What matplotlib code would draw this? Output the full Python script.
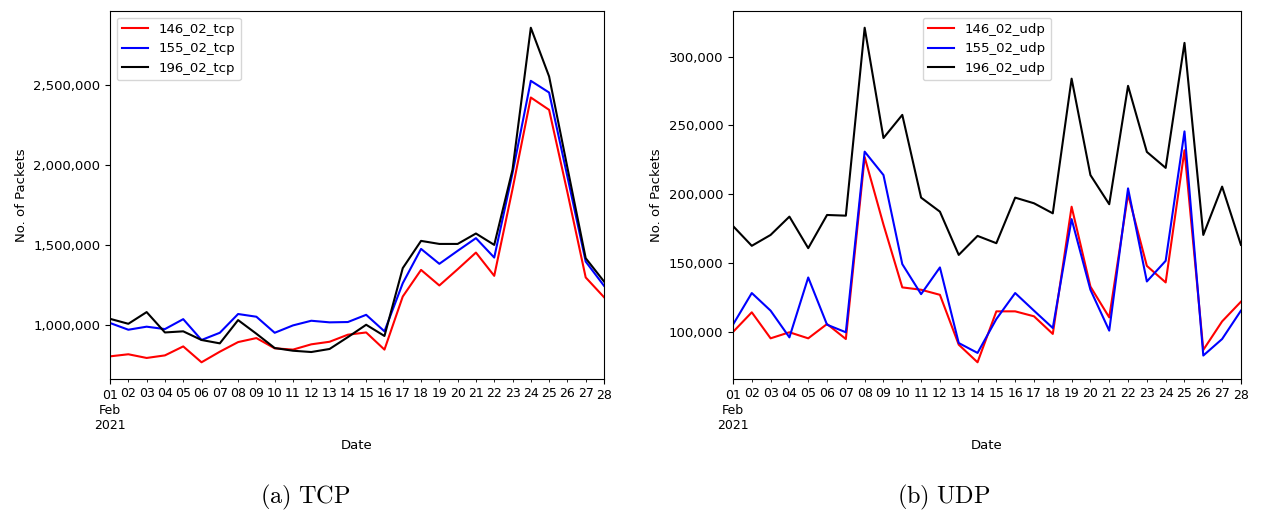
import numpy as np
import pandas as pd
import matplotlib
matplotlib.use("Agg")
from matplotlib import pyplot as plt
import matplotlib.dates as mdates
from matplotlib.ticker import FuncFormatter, FixedLocator

plt.rcParams['mathtext.fontset'] = 'cm'

days = pd.date_range("2021-02-01", "2021-02-28", freq="D")

# daily packet counts (TCP)
tcp_146 = [807e3, 820e3, 797e3, 813e3, 869e3, 770e3, 836e3, 896e3, 921e3, 857e3,
           849e3, 882e3, 898e3, 942e3, 956e3, 849e3, 1180e3, 1346e3, 1249e3, 1350e3,
           1454e3, 1309e3, 1850e3, 2421e3, 2344e3, 1830e3, 1299e3, 1176e3]
tcp_155 = [1015e3, 973e3, 992e3, 977e3, 1039e3, 909e3, 954e3, 1071e3, 1054e3, 954e3,
           1000e3, 1029e3, 1019e3, 1021e3, 1066e3, 963e3, 1263e3, 1477e3, 1384e3, 1465e3,
           1544e3, 1423e3, 1950e3, 2525e3, 2452e3, 1928e3, 1398e3, 1247e3]
tcp_196 = [1041e3, 1010e3, 1083e3, 956e3, 963e3, 909e3, 888e3, 1033e3, 948e3, 859e3,
           842e3, 834e3, 853e3, 927e3, 1004e3, 934e3, 1357e3, 1527e3, 1508e3, 1508e3,
           1573e3, 1502e3, 1971e3, 2856e3, 2552e3, 1984e3, 1419e3, 1274e3]

# daily packet counts (UDP)
udp_146 = [100e3, 114.3e3, 95.4e3, 99.8e3, 95.4e3, 105.8e3, 94.9e3, 227e3, 178e3, 132.4e3,
           130.7e3, 127e3, 90.8e3, 78e3, 115e3, 115e3, 111.4e3, 98.6e3, 191e3, 133e3,
           110.6e3, 200e3, 148e3, 136e3, 232e3, 87e3, 107.7e3, 122e3]
udp_155 = [105.3e3, 128.3e3, 115.5e3, 96.1e3, 139.6e3, 105.3e3, 99.8e3, 231e3, 214e3, 149.3e3,
           127.5e3, 146.9e3, 92e3, 84.8e3, 109.4e3, 128.3e3, 115.5e3, 102.9e3, 182e3, 130.7e3,
           101e3, 204.3e3, 136.7e3, 151.7e3, 245.7e3, 82.9e3, 94.9e3, 115.5e3]
udp_196 = [177e3, 162.6e3, 170.5e3, 183.8e3, 160.9e3, 185e3, 184.5e3, 321e3, 240.9e3, 257.7e3,
           197.6e3, 187.4e3, 156e3, 169.8e3, 164.5e3, 197.6e3, 193.5e3, 186.2e3, 284e3, 214e3,
           192.8e3, 278.8e3, 230.8e3, 219.2e3, 310e3, 170.5e3, 205.6e3, 163.3e3]

fs = 9.5
xfs = 9
fig = plt.figure(figsize=(12.62, 5.17), dpi=100)
ax1 = fig.add_axes([0.0872, 0.2669, 0.3914, 0.7118])
ax2 = fig.add_axes([0.5808, 0.2669, 0.4025, 0.7118])


def date_axis(ax):
    ax.set_xlim(days[0], days[-1])
    ends = [days[0], days[-1]]
    ax.xaxis.set_major_locator(FixedLocator(mdates.date2num(ends)))
    ax.xaxis.set_major_formatter(mdates.DateFormatter("%d"))
    ax.xaxis.set_minor_locator(FixedLocator(mdates.date2num(days[1:-1])))
    ax.xaxis.set_minor_formatter(mdates.DateFormatter("%d"))
    ax.tick_params(axis='x', which='both', labelsize=xfs)
    ax.tick_params(axis='y', labelsize=fs)
    ax.yaxis.set_major_formatter(FuncFormatter(lambda v, pos: f"{v:,.0f}"))
    # month / year under the first day
    ax.annotate("Feb\n2021", xy=(days[0], 0), xycoords=('data', 'axes fraction'),
                xytext=(0, -7 - 1.2 * xfs), textcoords='offset points',
                ha='center', va='top', fontsize=xfs, linespacing=1.2)
    ax.set_xlabel("Date", fontsize=fs, labelpad=27)
    ax.set_ylabel("No. of Packets", fontsize=fs)


ax1.plot(days, tcp_146, color='red', label='146_02_tcp')
ax1.plot(days, tcp_155, color='blue', label='155_02_tcp')
ax1.plot(days, tcp_196, color='black', label='196_02_tcp')
ax1.set_yticks([1e6, 1.5e6, 2e6, 2.5e6])
date_axis(ax1)
ax1.legend(loc='upper left', fontsize=fs)

ax2.plot(days, udp_146, color='red', label='146_02_udp')
ax2.plot(days, udp_155, color='blue', label='155_02_udp')
ax2.plot(days, udp_196, color='black', label='196_02_udp')
ax2.set_yticks([100e3, 150e3, 200e3, 250e3, 300e3])
date_axis(ax2)
ax2.legend(loc='upper center', fontsize=fs)

fig.text(0.242, 0.027, r'$\mathrm{(a)\ TCP}$', fontsize=17.5, ha='center')
fig.text(0.748, 0.027, r'$\mathrm{(b)\ UDP}$', fontsize=17.5, ha='center')

fig.savefig("out.png", dpi=100)
